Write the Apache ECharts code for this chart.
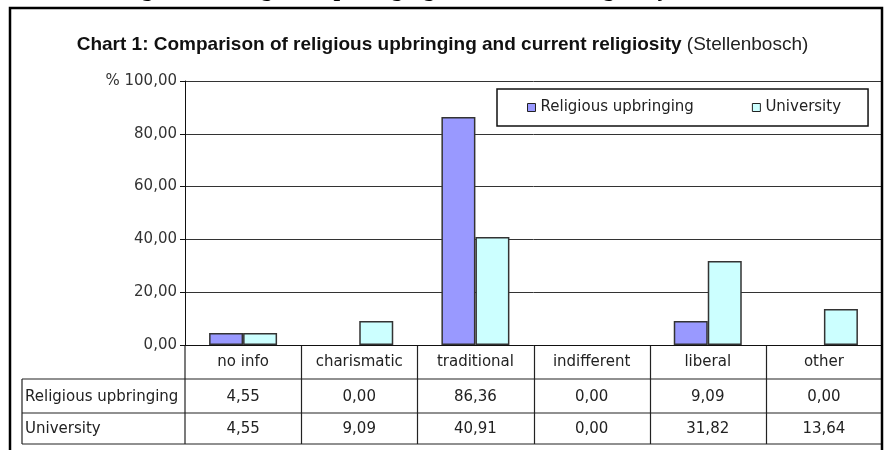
<!DOCTYPE html>
<html>
<head>
<meta charset="utf-8">
<style>
  html, body { margin: 0; padding: 0; background: #fff; }
  #chart { width: 885px; height: 450px; }
</style>
<script src="https://cdn.jsdelivr.net/npm/echarts@6/dist/echarts.min.js"></script>
</head>
<body>
<div id="chart"></div>
<script>
// Categories of religiosity and the share (%) of respondents in each
const categories = ['no info', 'charismatic', 'traditional', 'indifferent', 'liberal', 'other'];
const seriesNames = ['Religious upbringing', 'University'];
const upbringing = [4.55, 0.00, 86.36, 0.00, 9.09, 0.00];
const university = [4.55, 9.09, 40.91, 0.00, 31.82, 13.64];
const yTicks = [0, 20, 40, 60, 80, 100];

const FONT = 'DejaVu Sans';
const fmt = v => v.toFixed(2).replace('.', ',');
// empty bars get no outline so nothing is drawn on the axis
const barData = vals => vals.map(v => (v === 0 ? { value: v, itemStyle: { borderWidth: 0 } } : v));

const chart = echarts.init(document.getElementById('chart'), null, { renderer: 'canvas' });

const grid = { left: 185, right: 3, top: 81, bottom: 105 };

chart.setOption({
  animation: false,
  backgroundColor: '#ffffff',
  title: {
    text: '{b|Chart 1: Comparison of religious upbringing and current religiosity}{n| (Stellenbosch)}',
    left: 'center',
    top: 30,
    textStyle: {
      rich: {
        b: { fontFamily: 'Liberation Sans', fontWeight: 'bold', fontSize: 19, color: '#111' },
        n: { fontFamily: 'Liberation Sans', fontWeight: 'normal', fontSize: 19, color: '#222' }
      }
    }
  },
  legend: {
    data: seriesNames,
    left: 497,
    top: 89,
    orient: 'horizontal',
    padding: [11, 27, 11, 30],
    itemGap: 58,
    itemWidth: 8,
    itemHeight: 8,
    borderColor: '#111',
    borderWidth: 1.5,
    backgroundColor: '#fff',
    icon: 'rect',
    itemStyle: { borderColor: '#222', borderWidth: 1 },
    textStyle: { fontFamily: FONT, fontSize: 15, color: '#222' }
  },
  grid: grid,
  xAxis: {
    type: 'category',
    data: categories,
    axisLine: { show: true, lineStyle: { color: '#111', width: 1 } },
    axisTick: { show: false },
    axisLabel: { fontFamily: FONT, fontSize: 15, color: '#222', margin: 10, interval: 0 }
  },
  yAxis: {
    type: 'value',
    min: yTicks[0],
    max: yTicks[yTicks.length - 1],
    interval: yTicks[1] - yTicks[0],
    axisLine: { show: true, lineStyle: { color: '#111', width: 1 } },
    axisTick: { show: true, length: 5, lineStyle: { color: '#111' } },
    splitLine: { show: true, lineStyle: { color: '#333', width: 1 } },
    axisLabel: {
      fontFamily: FONT, fontSize: 15, color: '#333', margin: 8,
      formatter: v => (v === 100 ? '% ' : '') + fmt(v)
    }
  },
  series: [
    {
      name: seriesNames[0], type: 'bar', data: barData(upbringing),
      barWidth: 34, barGap: '0%',
      itemStyle: { color: '#9999FF', borderColor: '#333', borderWidth: 1.5 }
    },
    {
      name: seriesNames[1], type: 'bar', data: barData(university),
      barWidth: 34,
      itemStyle: { color: '#CCFFFF', borderColor: '#333', borderWidth: 1.5 }
    }
  ]
});

// Data table under the plot, aligned with the category axis
const x0 = chart.convertToPixel({ xAxisIndex: 0 }, 0);
const x1 = chart.convertToPixel({ xAxisIndex: 0 }, 1);
const band = x1 - x0;
const plotLeft = grid.left;
const plotRight = 885 - grid.right;
const axisY = chart.convertToPixel({ yAxisIndex: 0 }, 0);
const rowTop = [axisY, axisY + 34, axisY + 68];
const tableBottom = axisY + 99;
const tableLeft = 22;
const lineStyle = { stroke: '#222', lineWidth: 1.2 };
const els = [];

const hline = (xa, xb, y) => els.push({ type: 'line', shape: { x1: xa, y1: y, x2: xb, y2: y }, style: lineStyle, silent: true });
const vline = (x, ya, yb) => els.push({ type: 'line', shape: { x1: x, y1: ya, x2: x, y2: yb }, style: lineStyle, silent: true });

hline(tableLeft, plotRight, rowTop[1]);
hline(tableLeft, plotRight, rowTop[2]);
hline(tableLeft, plotRight, tableBottom);
vline(tableLeft, rowTop[1], tableBottom);
vline(plotLeft, axisY, tableBottom);
for (let i = 1; i < categories.length; i++) {
  vline(Math.round(x0 - band / 2 + i * band) + 0.5, axisY, tableBottom);
}

const rows = [upbringing, university];
rows.forEach((vals, r) => {
  const cy = (rowTop[r + 1] + (r === 0 ? rowTop[2] : tableBottom)) / 2 + 1;
  els.push({
    type: 'text', x: tableLeft + 3, y: cy, silent: true,
    style: { text: seriesNames[r], font: '15px "' + FONT + '"', fill: '#222', align: 'left', verticalAlign: 'middle' }
  });
  vals.forEach((v, i) => {
    const cx = chart.convertToPixel({ xAxisIndex: 0 }, i);
    els.push({
      type: 'text', x: cx, y: cy, silent: true,
      style: { text: fmt(v), font: '15px "' + FONT + '"', fill: '#222', align: 'center', verticalAlign: 'middle' }
    });
  });
});

// Outer frame and the heading of the page above it
els.push({
  type: 'text', x: 120, y: -10, silent: true,
  style: { text: 'Figure 1: Religious upbringing and current religiosity', font: 'bold 24px "Liberation Serif"', fill: '#000', verticalAlign: 'middle' }
});
els.push({
  type: 'rect', shape: { x: 10, y: 8, width: 872, height: 470 }, silent: true,
  style: { fill: 'none', stroke: '#000', lineWidth: 2.5 }, z: 100
});

chart.setOption({ graphic: els });
</script>
</body>
</html>
